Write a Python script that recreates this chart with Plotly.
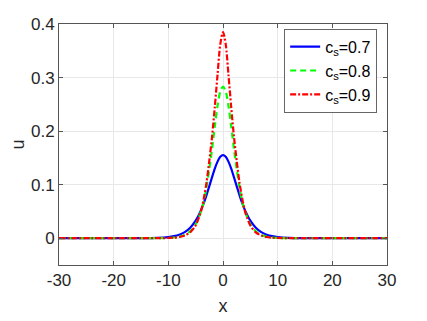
import plotly.graph_objects as go

# values (symmetric solitary pulses)
x = [-30, -20, -15, -12, -10, -9, -8, -7, -6, -5, -4, -3.5, -3, -2.5, -2, -1.5, -1, -0.5,
     0, 0.5, 1, 1.5, 2, 2.5, 3, 3.5, 4, 5, 6, 7, 8, 9, 10, 12, 15, 20, 30]

u_07 = [0, 0, 0.0001, 0.0007, 0.0021, 0.0038, 0.0066, 0.0113, 0.0196, 0.0327, 0.0529, 0.0661,
        0.0811, 0.0974, 0.114, 0.130, 0.143, 0.152,
        0.155,
        0.152, 0.143, 0.130, 0.114, 0.0974, 0.0811, 0.0661, 0.0529, 0.0327, 0.0196, 0.0113,
        0.0066, 0.0038, 0.0021, 0.0007, 0.0001, 0, 0]

u_08 = [0, 0, 0, 0.0001, 0.0006, 0.0013, 0.003, 0.006, 0.013, 0.026, 0.051, 0.069,
        0.096, 0.129, 0.167, 0.209, 0.247, 0.274,
        0.283,
        0.274, 0.247, 0.209, 0.167, 0.129, 0.096, 0.069, 0.051, 0.026, 0.013, 0.006,
        0.003, 0.0013, 0.0006, 0.0001, 0, 0, 0]

u_09 = [0, 0, 0, 0.0001, 0.0005, 0.001, 0.0023, 0.005, 0.011, 0.024, 0.051, 0.075,
        0.105, 0.145, 0.19, 0.245, 0.305, 0.362,
        0.385,
        0.362, 0.305, 0.245, 0.19, 0.145, 0.105, 0.075, 0.051, 0.024, 0.011, 0.005,
        0.0023, 0.001, 0.0005, 0.0001, 0, 0, 0]

labels = ["c<sub>s</sub>=0.7", "c<sub>s</sub>=0.8", "c<sub>s</sub>=0.9"]
xticks = [-30, -20, -10, 0, 10, 20, 30]
xtick_text = ["-30", "-20", "-10", "0", "10", "20", "30"]
yticks = [0, 0.1, 0.2, 0.3, 0.4]
ytick_text = ["0", "0.1", "0.2", "0.3", "0.4"]

fig = go.Figure()
fig.add_trace(go.Scatter(x=x, y=u_07, mode="lines", name=labels[0],
                         line=dict(color="#0000ff", width=2.2, shape="spline", smoothing=0.8)))
fig.add_trace(go.Scatter(x=x, y=u_08, mode="lines", name=labels[1],
                         line=dict(color="#00ff00", width=2.2, dash="6px,4px",
                                   shape="spline", smoothing=0.8)))
fig.add_trace(go.Scatter(x=x, y=u_09, mode="lines", name=labels[2],
                         line=dict(color="#ff0000", width=2.2, dash="6px,2px,2px,2px",
                                   shape="spline", smoothing=0.8)))

axis_style = dict(
    showline=True, linecolor="#555555", linewidth=1, mirror="allticks",
    ticks="inside", ticklen=4, tickcolor="#555555",
    showgrid=True, gridcolor="#e8e8e8", zeroline=False, automargin=False,
    tickfont=dict(family="Liberation Sans, Arial", size=17, color="#262626"),
)

# page body has an 8px default margin, so the figure is sized 8px smaller
fig.update_layout(
    width=419, height=313,
    margin=dict(l=51, r=40, t=16, b=56),
    paper_bgcolor="white", plot_bgcolor="white",
    font=dict(family="Liberation Sans, Arial", color="#262626"),
    xaxis=dict(range=[-30, 30], tickvals=xticks, ticktext=xtick_text,
               title=dict(text="x", font=dict(size=18), standoff=9), **axis_style),
    yaxis=dict(range=[-0.05, 0.4], tickvals=yticks, ticktext=ytick_text,
               title=dict(text="u", font=dict(size=18), standoff=6), **axis_style),
    legend=dict(x=0.97, y=0.98, xanchor="right", yanchor="top",
                bgcolor="white", bordercolor="#666666", borderwidth=1,
                itemwidth=30, font=dict(size=16, color="black"), tracegroupgap=0),
    showlegend=True,
)

fig.write_html("out.html")
